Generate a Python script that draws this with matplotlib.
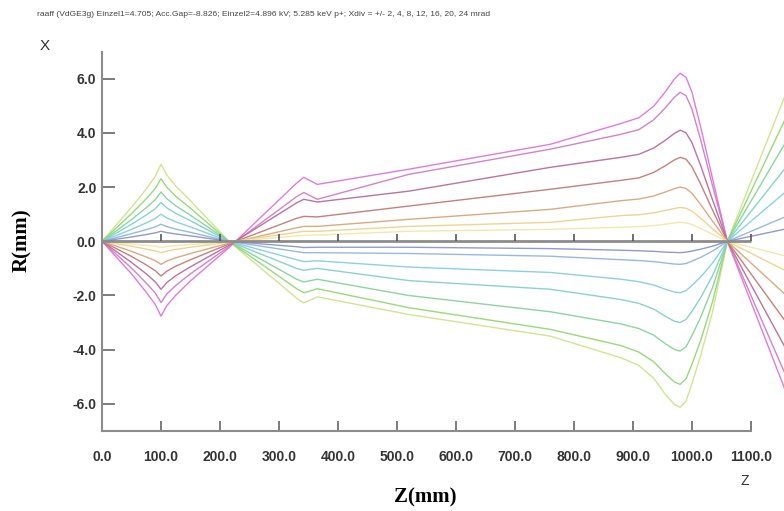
import matplotlib
matplotlib.use("Agg")
import matplotlib.pyplot as plt

# sample positions along the beam line (mm)
z_pts = [0, 50, 75, 90, 100, 110, 125, 150, 215, 330, 342, 365, 520, 760, 880,
         910, 935, 955, 970, 980, 990, 1000, 1015, 1035, 1060, 1160]

# rays that start upwards (+24 ... +2 mrad)
g24 = [0, 1.25, 1.93, 2.39, 2.84, 2.44, 2.04, 1.5, 0.0, -2.1, -2.27, -2.05, -2.7, -3.5, -4.3,
       -4.58, -5.05, -5.65, -6.02, -6.13, -5.9, -5.25, -4.2, -2.6, 0, 5.5]
g20 = [0, 1.02, 1.57, 1.94, 2.31, 1.99, 1.66, 1.22, 0.0, -1.75, -1.9, -1.75, -2.45, -3.25, -3.85,
       -4.09, -4.44, -4.89, -5.19, -5.28, -5.07, -4.54, -3.64, -2.22, 0, 4.6]
g16 = [0, 0.8, 1.24, 1.53, 1.82, 1.57, 1.31, 0.96, 0.0, -1.4, -1.5, -1.4, -2.0, -2.6, -3.05,
       -3.22, -3.46, -3.78, -3.99, -4.05, -3.89, -3.48, -2.79, -1.7, 0, 3.7]
g12 = [0, 0.63, 0.97, 1.2, 1.43, 1.23, 1.03, 0.76, 0.0, -1.0, -1.07, -1.0, -1.45, -1.77, -2.15,
       -2.29, -2.5, -2.77, -2.95, -3.0, -2.88, -2.58, -2.07, -1.26, 0, 2.75]
g8 = [0, 0.44, 0.68, 0.84, 1.0, 0.86, 0.72, 0.53, 0.0, -0.68, -0.75, -0.72, -0.95, -1.15, -1.4,
      -1.49, -1.61, -1.77, -1.87, -1.9, -1.82, -1.63, -1.31, -0.8, 0, 1.85]
g4 = [0, 0.28, 0.43, 0.53, 0.63, 0.54, 0.45, 0.33, 0.0, -0.38, -0.42, -0.42, -0.45, -0.55, -0.68,
      -0.71, -0.75, -0.8, -0.84, -0.85, -0.82, -0.73, -0.59, -0.36, 0, 0.92]
g2 = [0, 0.16, 0.25, 0.31, 0.37, 0.32, 0.27, 0.2, 0.0, -0.2, -0.23, -0.22, -0.22, -0.27, -0.33,
      -0.35, -0.37, -0.4, -0.41, -0.42, -0.4, -0.36, -0.29, -0.18, 0, 0.46]

# rays that start downwards (-24 ... -2 mrad)
m24 = [0, -1.2, -1.88, -2.32, -2.76, -2.37, -1.99, -1.46, -0.24, 2.15, 2.36, 2.1, 2.66, 3.58, 4.35,
       4.56, 4.98, 5.52, 5.98, 6.2, 6.05, 5.5, 4.2, 2.3, 0, -5.6]
m20 = [0, -0.99, -1.54, -1.9, -2.26, -1.94, -1.63, -1.2, -0.2, 1.65, 1.8, 1.55, 2.47, 3.4, 3.95,
       4.12, 4.48, 4.93, 5.31, 5.5, 5.37, 4.88, 3.72, 2.04, 0, -5.0]
m16 = [0, -0.78, -1.2, -1.49, -1.77, -1.52, -1.27, -0.94, -0.15, 1.42, 1.55, 1.45, 1.85, 2.73, 3.1,
       3.21, 3.44, 3.73, 3.98, 4.1, 4.0, 3.64, 2.78, 1.52, 0, -4.0]
m12 = [0, -0.56, -0.87, -1.08, -1.28, -1.1, -0.92, -0.68, -0.1, 0.85, 0.92, 0.9, 1.3, 1.92, 2.25,
       2.34, 2.54, 2.79, 3.0, 3.1, 3.03, 2.75, 2.1, 1.15, 0, -3.0]
m8 = [0, -0.37, -0.58, -0.71, -0.85, -0.73, -0.61, -0.45, -0.07, 0.5, 0.55, 0.55, 0.81, 1.18, 1.5,
      1.56, 1.67, 1.82, 1.94, 2.0, 1.95, 1.77, 1.35, 0.74, 0, -2.0]
m4 = [0, -0.18, -0.29, -0.35, -0.42, -0.36, -0.3, -0.22, -0.03, 0.33, 0.37, 0.37, 0.55, 0.7, 0.95,
      0.98, 1.05, 1.14, 1.21, 1.25, 1.22, 1.11, 0.85, 0.46, 0, -1.1]
m2 = [0, -0.1, -0.15, -0.18, -0.22, -0.19, -0.16, -0.12, -0.02, 0.2, 0.22, 0.23, 0.37, 0.44, 0.52,
      0.54, 0.58, 0.63, 0.68, 0.7, 0.68, 0.62, 0.47, 0.26, 0, -0.55]

g_colors = ["#cde48a", "#92d873", "#86d39a", "#82d2c4", "#86cde3", "#8fb6e0", "#8c94cc"]
m_colors = ["#de74de", "#d27cc4", "#b86c98", "#c27a76", "#d9a679", "#eed28c", "#f1e8a8"]

x_ticks = [0, 100, 200, 300, 400, 500, 600, 700, 800, 900, 1000, 1100]
y_ticks = [-6, -4, -2, 0, 2, 4, 6]

title = ("raaff (VdGE3g) Einzel1=4.705; Acc.Gap=-8.826; Einzel2=4.896 kV; "
         "5.285 keV p+; Xdiv = +/- 2, 4, 8, 12, 16, 20, 24 mrad")

sans = ["Liberation Sans Narrow", "Liberation Sans", "DejaVu Sans"]
axis_gray = "#8c8c8c"

fig = plt.figure(figsize=(7.84, 5.11), dpi=100)
ax = fig.add_axes([102 / 784, 80 / 511, 682 / 784, 379.4 / 511])

rays = [g24, g20, g16, g12, g8, g4, g2, m24, m20, m16, m12, m8, m4, m2]
colors = g_colors + m_colors
for r, c in zip(rays, colors):
    ax.plot(z_pts, r, color=c, lw=1.0, alpha=0.95, clip_on=False, zorder=2,
            solid_joinstyle="round")

# optical axis with its own little ticks
ax.hlines(0, x_ticks[0], x_ticks[-1], color=axis_gray, lw=2, zorder=3)
ax.vlines(x_ticks[1:], 0, 0.26, color="#555555", lw=1.2, zorder=3)

ax.set_xlim(0, 1156)
ax.set_ylim(-7, 7)
ax.set_xticks(x_ticks)
ax.set_yticks(y_ticks)
ax.set_xticklabels([f"{v:.1f}" for v in x_ticks])
ax.set_yticklabels([f"{v:.1f}" for v in y_ticks])

for s in ["top", "right"]:
    ax.spines[s].set_visible(False)
for s in ["left", "bottom"]:
    ax.spines[s].set_color(axis_gray)
    ax.spines[s].set_linewidth(1.5)
ax.spines["bottom"].set_bounds(0, 1100)

ax.tick_params(axis="y", direction="in", length=9, width=1.2, color="#666666", pad=4)
ax.tick_params(axis="x", direction="in", length=7, width=1.2, color="#666666", pad=14)
for lab in ax.get_xticklabels() + ax.get_yticklabels():
    lab.set_family(sans)
    lab.set_fontsize(10)
    lab.set_fontweight("bold")
    lab.set_color("#333333")

fig.text(37 / 784, 1 - 14 / 511, title, fontsize=6.1, family=sans, color="#444444", va="center")
fig.text(45 / 784, 1 - 46 / 511, "X", fontsize=11, family=sans, color="#333333", ha="center", va="center")
fig.text(745 / 784, 1 - 481 / 511, "Z", fontsize=10, family=sans, color="#333333", ha="center", va="center")

fig.text(22 / 784, 1 - 240 / 511, "R(mm)", fontsize=15, family="Liberation Serif", fontweight="bold",
         rotation=90, ha="center", va="center")
fig.text(425 / 784, 1 - 497 / 511, "Z(mm)", fontsize=15, family="Liberation Serif", fontweight="bold",
         ha="center", va="center")

fig.savefig("out.png", dpi=100)
